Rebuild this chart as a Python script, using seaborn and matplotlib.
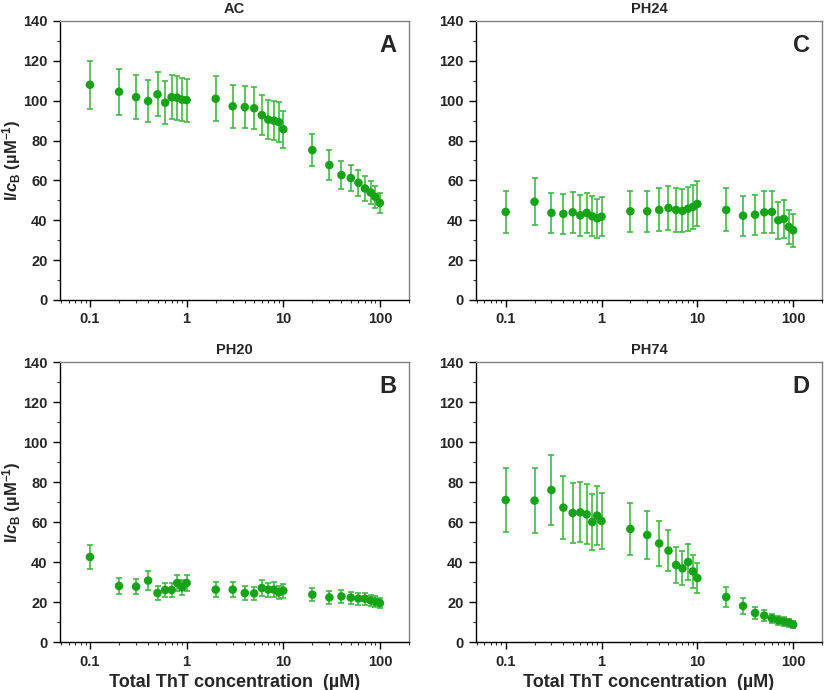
import numpy as np
import pandas as pd
import matplotlib
matplotlib.use("Agg")
import matplotlib.pyplot as plt
from matplotlib.ticker import LogLocator, FixedLocator, MultipleLocator, NullFormatter
import seaborn as sns

# ---------------- data ----------------
conc = [0.1, 0.2, 0.3, 0.4, 0.5, 0.6, 0.7, 0.8, 0.9, 1.0,
        2, 3, 4, 5, 6, 7, 8, 9, 10,
        20, 30, 40, 50, 60, 70, 80, 90, 100]

ac_val = [108.0, 104.5, 101.8, 99.8, 103.2, 99.0, 101.8, 101.5, 100.5, 100.3,
          101.0, 97.2, 96.8, 96.2, 92.8, 90.5, 90.0, 89.3, 85.7,
          75.2, 67.7, 62.7, 61.2, 58.8, 56.0, 54.0, 51.7, 48.7]
ac_err = [12.0, 11.5, 11.2, 10.7, 11.0, 10.7, 11.0, 11.0, 10.7, 10.8,
          11.2, 10.8, 10.5, 10.5, 10.2, 9.7, 9.7, 9.9, 9.2,
          8.0, 7.5, 6.9, 6.7, 6.4, 6.2, 5.8, 5.7, 5.2]

ph24_val = [44.2, 49.3, 43.7, 43.2, 44.0, 42.5, 43.7, 42.0, 41.0, 41.8,
            44.5, 44.5, 45.2, 46.2, 45.2, 44.7, 45.8, 46.7, 48.2,
            45.2, 42.3, 42.8, 44.0, 44.2, 40.0, 40.7, 36.7, 35.0]
ph24_err = [10.5, 11.8, 10.2, 10.2, 10.3, 10.2, 10.2, 10.0, 9.8, 9.7,
            10.4, 10.4, 10.8, 11.2, 11.0, 10.8, 11.0, 11.0, 11.3,
            10.8, 10.1, 10.1, 10.5, 10.5, 9.4, 9.6, 8.7, 8.3]

ph20_val = [42.5, 28.0, 27.7, 30.7, 24.5, 26.0, 26.0, 29.5, 27.3, 29.5,
            26.2, 26.2, 24.5, 24.3, 27.0, 26.2, 26.2, 24.8, 25.7,
            23.7, 22.3, 22.8, 22.2, 21.7, 21.7, 20.8, 20.2, 19.5]
ph20_err = [6.2, 4.0, 3.8, 4.6, 3.4, 3.7, 3.7, 4.0, 3.8, 4.0,
            3.7, 3.7, 3.5, 3.4, 3.8, 3.5, 3.6, 3.4, 3.5,
            3.4, 3.1, 3.2, 3.0, 3.0, 3.0, 2.9, 2.8, 2.7]

ph74_val = [71.0, 70.7, 76.0, 67.2, 64.5, 64.8, 63.8, 60.0, 63.2, 60.5,
            56.5, 53.5, 49.3, 45.7, 38.5, 36.8, 40.0, 35.3, 32.0,
            22.5, 18.0, 14.5, 13.2, 11.8, 10.8, 10.2, 9.7, 8.7]
ph74_err = [16.2, 16.4, 17.6, 15.7, 15.0, 15.0, 15.0, 13.9, 14.7, 14.1,
            12.9, 12.0, 11.3, 10.4, 8.9, 8.5, 9.0, 8.1, 7.3,
            4.8, 4.0, 3.0, 2.8, 2.4, 2.3, 2.2, 2.0, 1.8]

titles = ["AC", "PH24", "PH20", "PH74"]
letters = ["A", "C", "B", "D"]
y_ticks = [0, 20, 40, 60, 80, 100, 120, 140]
x_ticks = [0.1, 1, 10, 100]
x_tick_labels = ["0.1", "1", "10", "100"]
xlabel = "Total ThT concentration  (µM)"
ylabel = r"I/$\mathit{c}_{\mathbf{B}}$ (µM$^{\mathbf{-1}}$)"

# ---------------- style ----------------
sns.set_theme(style="ticks")
plt.rcParams["font.family"] = ["Liberation Sans", "DejaVu Sans"]
plt.rcParams["font.weight"] = "bold"
plt.rcParams["mathtext.fontset"] = "custom"
plt.rcParams["mathtext.rm"] = "Liberation Sans:bold"
plt.rcParams["mathtext.bf"] = "Liberation Sans:bold"
plt.rcParams["mathtext.it"] = "Liberation Sans:bold:italic"
plt.rcParams["mathtext.default"] = "bf"

marker_color = "#17a317"
err_color = "#45b845"

fig = plt.figure(figsize=(8.25, 6.9), dpi=100)

positions = {
    0: [60 / 825, 1 - 300 / 690, (409 - 60) / 825, (300 - 21) / 690],
    1: [476 / 825, 1 - 300 / 690, (822 - 476) / 825, (300 - 21) / 690],
    2: [60 / 825, 1 - 642 / 690, (409 - 60) / 825, (642 - 362) / 690],
    3: [476 / 825, 1 - 642 / 690, (822 - 476) / 825, (642 - 362) / 690],
}
series = [(ac_val, ac_err), (ph24_val, ph24_err), (ph20_val, ph20_err), (ph74_val, ph74_err)]

for i, (vals, errs) in enumerate(series):
    ax = fig.add_axes(positions[i])
    df = pd.DataFrame({"conc": conc, "val": vals, "err": errs})
    ax.errorbar(df["conc"], df["val"], yerr=df["err"], fmt="none",
                ecolor=err_color, elinewidth=1.2, capsize=2.5, capthick=1.2, zorder=2)
    sns.scatterplot(data=df, x="conc", y="val", ax=ax, color=marker_color,
                    s=38, edgecolor="none", zorder=3, legend=False)
    ax.set_xscale("log")
    ax.set_xlim(0.049, 200)
    ax.set_ylim(0, 140)
    ax.xaxis.set_major_locator(FixedLocator(x_ticks))
    ax.set_xticklabels(x_tick_labels)
    ax.xaxis.set_minor_locator(LogLocator(base=10, subs=np.arange(2, 10), numticks=20))
    ax.xaxis.set_minor_formatter(NullFormatter())
    ax.yaxis.set_major_locator(FixedLocator(y_ticks))
    ax.yaxis.set_minor_locator(MultipleLocator(10))
    ax.tick_params(axis="both", which="major", direction="out", length=5, width=1,
                   labelsize=10.5, color="black", pad=4)
    ax.tick_params(axis="both", which="minor", direction="out", length=2.5, width=0.8, color="#333333")
    for lab in ax.get_xticklabels() + ax.get_yticklabels():
        lab.set_fontweight("bold")
    for side in ["top", "right"]:
        ax.spines[side].set_visible(True)
        ax.spines[side].set_color("#808080")
        ax.spines[side].set_linewidth(1.0)
    for side in ["left", "bottom"]:
        ax.spines[side].set_color("black")
        ax.spines[side].set_linewidth(1.0)
    ax.set_title(titles[i], fontsize=10.5, fontweight="bold", pad=6)
    ax.text(0.965, 0.955, letters[i], transform=ax.transAxes, ha="right", va="top",
            fontsize=17, fontweight="bold")
    if i in (0, 2):
        ax.set_ylabel(ylabel, fontsize=12, fontweight="bold")
        ax.yaxis.set_label_coords(-0.105, 0.5)
    else:
        ax.set_ylabel("")
    if i in (2, 3):
        ax.set_xlabel(xlabel, fontsize=13, fontweight="bold", labelpad=4)
    else:
        ax.set_xlabel("")

fig.savefig("out.png", dpi=100)
